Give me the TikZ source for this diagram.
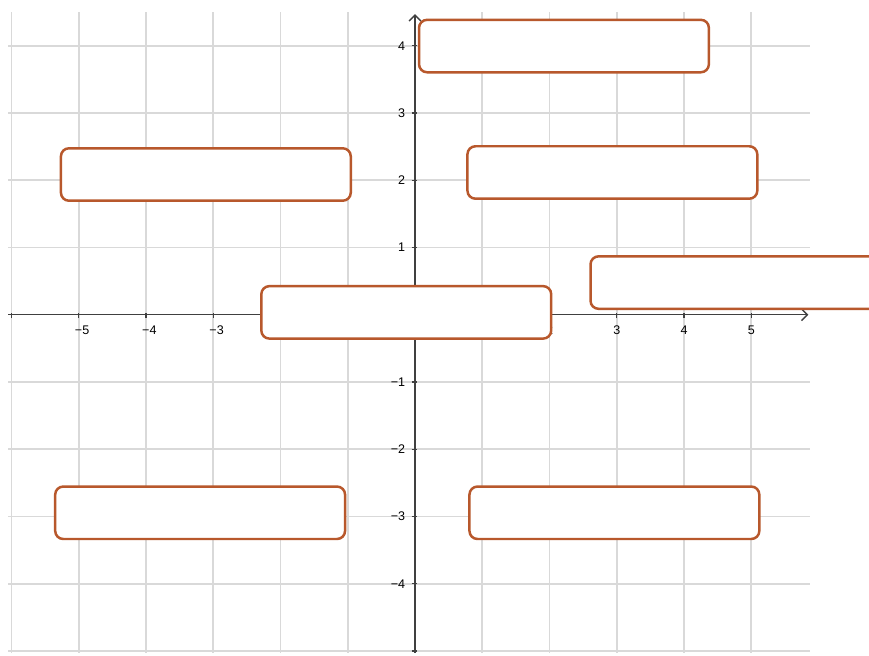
\documentclass[tikz,border=0pt]{standalone}
\usepackage{fontspec}
\setmainfont{Liberation Sans}
\usetikzlibrary{arrows.meta}
\definecolor{gridgray}{RGB}{217,217,217}
\definecolor{axisgray}{RGB}{64,64,64}
\definecolor{boxbrown}{RGB}{184,88,44}
\tikzset{
  gridline/.style={draw=gridgray, line width=0.8pt},
  axisline/.style={draw=axisgray, line width=0.6pt, -{Straight Barb[length=2.5pt,width=5pt]}},
  tickmark/.style={draw=axisgray, line width=0.5pt},
  ticklabel/.style={inner sep=0pt, font=\fontsize{5.3}{6}\selectfont, text=black},
  answerbox/.style={draw=boxbrown, fill=white, line width=1.05pt, rounded corners=3.4pt,
    minimum width=4.31cm, minimum height=0.78cm, inner sep=0pt}
}
\begin{document}
\begin{tikzpicture}
\useasboundingbox (-6.171,-5.060) rectangle (6.751,4.680);
\clip (-6.171,-5.060) rectangle (6.751,4.680);
\fill[white] (-6.171,-5.060) rectangle (6.751,4.680);
% grid
\foreach \y in {-5,-4,-3,-2,-1,1,2,3,4}
  \draw[gridline] (-6.05,\y) -- (5.88,\y);
\foreach \x in {-6,-5,-4,-3,-2,-1,1,2,3,4,5}
  \draw[gridline] (\x,-5.03) -- (\x,4.5);
% axes
\draw[axisline] (-6.05,0) -- (5.85,0);
\draw[axisline] (0,-5.03) -- (0,4.47);
% ticks
\foreach \x in {-6,-5,-4,-3,-2,-1,1,2,3,4,5}
  \draw[tickmark] (\x,-0.05) -- (\x,0.03);
\foreach \y in {-5,-4,-3,-2,-1,1,2,3,4}
  \draw[tickmark] (-0.05,\y) -- (0.03,\y);
% x labels
\foreach \x in {-5,-4,-3,-2,-1}
  \node[ticklabel, anchor=north] at (\x+0.05,-0.16) {−\the\numexpr-\x\relax};
\foreach \x in {1,2,3,4,5}
  \node[ticklabel, anchor=north] at (\x,-0.16) {\x};
% y labels
\foreach \y in {1,2,3,4}
  \node[ticklabel, anchor=east] at (-0.14,\y) {\y};
\foreach \y in {-1,-2,-3,-4}
  \node[ticklabel, anchor=east] at (-0.14,\y) {−\the\numexpr-\y\relax};
% boxes
\node[answerbox] (top) at (2.215,3.995) {};
\node[answerbox] (lefttop) at (-3.11,2.085) {};
\node[answerbox] (righttop) at (2.935,2.115) {};
\node[answerbox] (rightmid) at (4.765,0.478) {};
\node[answerbox] (center) at (-0.13,0.035) {};
\node[answerbox] (leftbottom) at (-3.195,-2.945) {};
\node[answerbox] (rightbottom) at (2.965,-2.945) {};
\end{tikzpicture}
\end{document}
